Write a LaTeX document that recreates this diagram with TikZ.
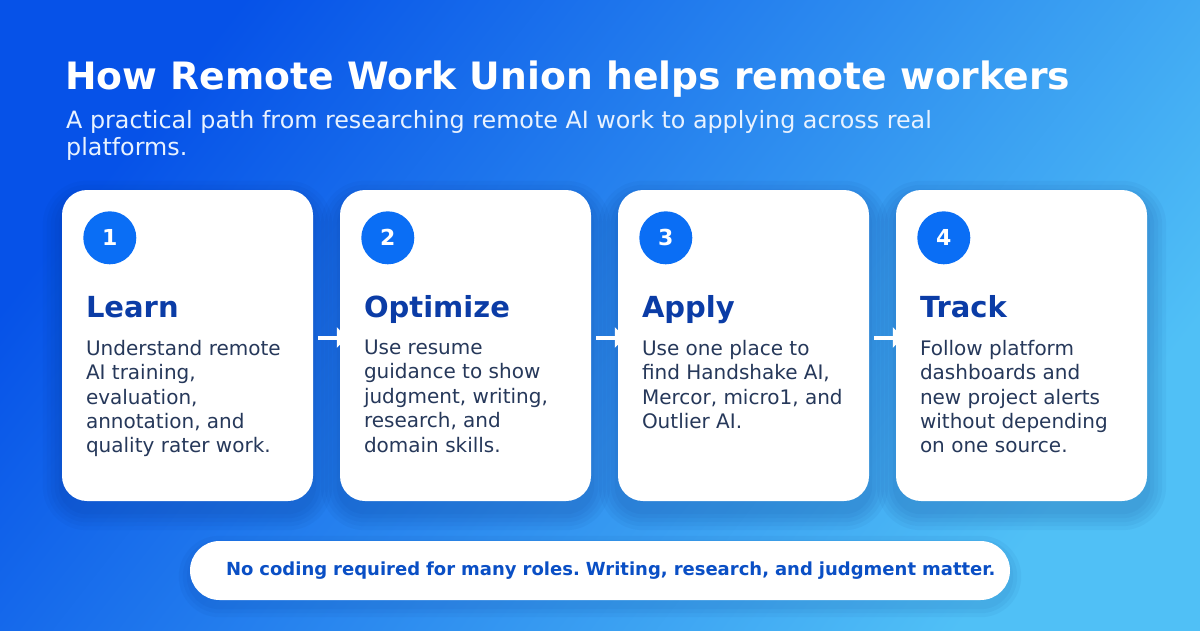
\documentclass[tikz,border=0pt]{standalone}
\usepackage{fontspec}
\setmainfont{DejaVu Sans}
\usepackage{xcolor}
\definecolor{rwudeep}{RGB}{6, 82, 232}
\definecolor{rwulight}{RGB}{80, 192, 246}
\definecolor{rwunum}{RGB}{10, 110, 245}
\definecolor{rwuhead}{RGB}{11, 60, 166}
\definecolor{rwubody}{RGB}{38, 56, 90}
\definecolor{rwunote}{RGB}{10, 79, 197}
\definecolor{rwusub}{RGB}{232, 242, 255}
\definecolor{rwushadow}{RGB}{4, 40, 120}
\usetikzlibrary{arrows.meta, positioning}
\pgfdeclarelayer{bg}
\pgfdeclarelayer{links}
\pgfsetlayers{bg,links,main}
\frenchspacing

\begin{document}
\begin{tikzpicture}[x=1pt, y=-1pt, >=Triangle,
  card/.style={fill=white, rounded corners=25pt, minimum width=251pt, minimum height=311pt, inner sep=0pt},
  num/.style={circle, fill=rwunum, minimum size=53pt, inner sep=0pt, text=white, font=\fontsize{22}{26}\selectfont\bfseries},
  head/.style={anchor=base west, inner sep=0pt, text=rwuhead, font=\fontsize{29}{34}\selectfont\bfseries},
  body/.style={anchor=north west, inner sep=0pt, align=left, text=rwubody, font=\fontsize{20}{24.4}\selectfont},
  flow/.style={->, white, line width=4pt, arrows={-Triangle[length=10pt, width=20pt]}},
  haze/.style={fill=rwushadow, opacity=0.045}]

\useasboundingbox (0,0) rectangle (1200,630);

% === Fondo ===
\begin{pgfonlayer}{bg}
\shade[top color=rwudeep, bottom color=rwulight, shading angle=52] (0,0) rectangle (1200,630);
\end{pgfonlayer}

% === Titulo ===
\node[anchor=base west, inner sep=0pt, text=white, font=\fontsize{37.7}{44}\selectfont\bfseries] (title) at (65, 89) {How Remote Work Union helps remote workers};
\node[anchor=north west, inner sep=0pt, align=left, text=rwusub, font=\fontsize{23.8}{27}\selectfont] (subtitle) at (66, 110)
  {A practical path from researching remote AI work to applying across real\\platforms.};

% === Tarjetas ===
\node[card] (c1) at (187.5, 345.5) {};
\node[card] (c2) at (465.5, 345.5) {};
\node[card] (c3) at (743.5, 345.5) {};
\node[card] (c4) at (1021.5, 345.5) {};

% Paso 1
\node[num] (n1) at ([xshift=48pt, yshift=-48pt]c1.north west) {1};
\node[head] (h1) at ([xshift=24pt, yshift=-128pt]c1.north west) {Learn};
\node[body] (b1) at ([xshift=24pt, yshift=-150pt]c1.north west)
  {Understand remote\\AI training,\\evaluation,\\annotation, and\\quality rater work.};

% Paso 2
\node[num] (n2) at ([xshift=48pt, yshift=-48pt]c2.north west) {2};
\node[head] (h2) at ([xshift=24pt, yshift=-128pt]c2.north west) {Optimize};
\node[body] (b2) at ([xshift=24pt, yshift=-150pt]c2.north west)
  {Use resume\\guidance to show\\judgment, writing,\\research, and\\domain skills.};

% Paso 3
\node[num] (n3) at ([xshift=48pt, yshift=-48pt]c3.north west) {3};
\node[head] (h3) at ([xshift=24pt, yshift=-128pt]c3.north west) {Apply};
\node[body] (b3) at ([xshift=24pt, yshift=-150pt]c3.north west)
  {Use one place to\\find Handshake AI,\\Mercor, micro1, and\\Outlier AI.};

% Paso 4
\node[num] (n4) at ([xshift=48pt, yshift=-48pt]c4.north west) {4};
\node[head] (h4) at ([xshift=24pt, yshift=-128pt]c4.north west) {Track};
\node[body] (b4) at ([xshift=24pt, yshift=-150pt]c4.north west)
  {Follow platform\\dashboards and\\new project alerts\\without depending\\on one source.};

% === Nota ===
\node[fill=white, rounded corners=29.5pt, minimum width=820pt, minimum height=59pt, text width=748pt, inner xsep=36pt,
  text=rwunote, font=\fontsize{18}{21}\selectfont\bfseries]
  (note) at (600, 570.5) {\mbox{No coding required for many roles. Writing, research, and judgment matter.}};

% === Sombras y flechas ===
\begin{pgfonlayer}{links}
\foreach \c in {c1, c2, c3, c4}
  \foreach \s in {3, 7, 11, 15, 19}
    \fill[haze, rounded corners=25pt+\s pt]
      ([xshift=-\s pt, yshift=\s pt-10pt]\c.north west) rectangle ([xshift=\s pt, yshift=-\s pt-10pt]\c.south east);
\foreach \s in {3, 7, 11}
  \fill[haze, rounded corners=29.5pt+\s pt]
    ([xshift=-\s pt, yshift=\s pt-6pt]note.north west) rectangle ([xshift=\s pt, yshift=-\s pt-6pt]note.south east);
\draw[flow] ([xshift=5pt, yshift=8pt]c1.east) -- ([xshift=7pt, yshift=8pt]c2.west);
\draw[flow] ([xshift=5pt, yshift=8pt]c2.east) -- ([xshift=7pt, yshift=8pt]c3.west);
\draw[flow] ([xshift=5pt, yshift=8pt]c3.east) -- ([xshift=7pt, yshift=8pt]c4.west);
\end{pgfonlayer}

\end{tikzpicture}
\end{document}
